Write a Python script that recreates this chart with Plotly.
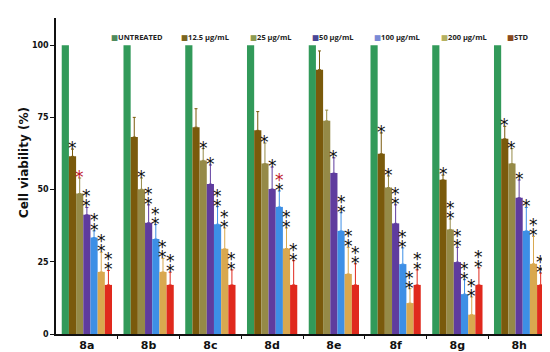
import plotly.graph_objects as go

groups = ["8a", "8b", "8c", "8d", "8e", "8f", "8g", "8h"]
series_names = ["UNTREATED", "12.5 µg/mL", "25 µg/mL", "50 µg/mL", "100 µg/mL", "200 µg/mL", "STD"]

untreated = [100, 100, 100, 100, 100, 100, 100, 100]
c12_5 = [61.5, 68.2, 71.6, 70.5, 91.5, 62.4, 53.4, 67.6]
c25 = [48.6, 50.1, 60.1, 59.0, 73.8, 50.7, 36.2, 59.0]
c50 = [41.3, 38.5, 51.9, 50.2, 55.7, 38.3, 24.9, 47.2]
c100 = [33.4, 32.9, 38.0, 44.0, 35.7, 24.2, 13.8, 35.7]
c200 = [21.5, 21.5, 29.5, 29.6, 20.8, 10.7, 6.7, 24.3]
std = [17.0, 17.0, 17.0, 17.0, 17.0, 17.0, 17.0, 17.0]

e_untreated = [0, 0, 0, 0, 0, 0, 0, 0]
e12_5 = [2.5, 6.8, 6.4, 6.5, 6.5, 7.2, 1.6, 4.3]
e25 = [5.4, 3.9, 4.1, 7.1, 3.7, 4.0, 3.6, 5.2]
e50 = [2.5, 6.2, 6.6, 7.6, 5.3, 6.4, 5.1, 6.1]
e100 = [2.3, 5.0, 6.1, 5.5, 6.3, 5.6, 5.0, 8.1]
e200 = [6.8, 4.7, 7.2, 7.1, 9.2, 5.0, 6.1, 9.5]
e_std = [5.0, 4.4, 5.2, 8.4, 7.3, 5.2, 5.9, 4.1]

# number of significance asterisks above each bar
s_untreated = [0, 0, 0, 0, 0, 0, 0, 0]
s12_5 = [1, 0, 0, 0, 0, 1, 1, 1]
s25 = [1, 1, 1, 1, 0, 1, 2, 1]
s50 = [2, 2, 1, 1, 1, 2, 2, 1]
s100 = [2, 2, 2, 2, 2, 2, 2, 1]
s200 = [2, 2, 2, 2, 2, 2, 2, 2]
s_std = [2, 2, 2, 2, 2, 2, 2, 2]

yticks = [0, 25, 50, 75, 100]

values = [untreated, c12_5, c25, c50, c100, c200, std]
errors = [e_untreated, e12_5, e25, e50, e100, e200, e_std]
stars = [s_untreated, s12_5, s25, s50, s100, s200, s_std]

bar_colors = ["#329a5a", "#7a5a0c", "#958a47", "#5f3c9e", "#3d8fe6", "#d9a84f", "#e0291d"]
legend_colors = ["#4f8a5c", "#7a6420", "#8c9a50", "#4a4696", "#7a8ad6", "#b4b060", "#8a4a20"]
red_stars = {(2, 0, 0), (4, 3, 1)}  # (series, group, level)

FONT = "DejaVu Sans"
L, R, T, B = 48, 8, 10, 24
W, H = 550, 352
PW, PH = W - L - R, H - T - B
gap = 0.186
n = len(series_names)
bw = (1 - gap) / n
xs = list(range(len(groups)))

fig = go.Figure()
for j, name in enumerate(series_names):
    fig.add_trace(go.Bar(
        x=xs, y=values[j], name=name, marker_color=bar_colors[j],
        marker_line_width=0,
        error_y=dict(type="data", symmetric=False, array=errors[j],
                     arrayminus=[0] * len(groups), color=bar_colors[j],
                     thickness=1, width=1.5, visible=any(errors[j])),
        showlegend=False,
    ))

annotations = []
for j in range(n):
    for i in range(len(groups)):
        for k in range(stars[j][i]):
            annotations.append(dict(
                x=i + (j - (n - 1) / 2) * bw, y=values[j][i] + errors[j][i],
                xref="x", yref="y", text="*", showarrow=False,
                yanchor="middle", yshift=1 + 10 * k,
                font=dict(family=FONT, size=17,
                          color="#c0182a" if (j, i, k) in red_stars else "#111111"),
            ))

# legend row drawn as text
legend_px = [101, 171, 240, 302, 364, 431, 497]
for j, name in enumerate(series_names):
    annotations.append(dict(
        x=(legend_px[j] - L) / PW, y=(H - B - 29) / PH,
        xref="paper", yref="paper", xanchor="left", yanchor="middle",
        showarrow=False,
        text=f"<span style='color:{legend_colors[j]};font-family:DejaVu Sans'>■</span><b>{name}</b>",
        font=dict(family="Open Sans", size=7.5, color="#222222"),
    ))

# y-axis title
annotations.append(dict(
    x=-32 / PW, y=(H - B - 156) / PH, xref="paper", yref="paper",
    text="<b>Cell viability (%)</b>", textangle=-90, showarrow=False,
    xanchor="center", yanchor="middle",
    font=dict(family=FONT, size=12, color="#111111"),
))

fig.update_layout(
    width=W, height=H, margin=dict(l=L, r=R, t=T, b=B),
    barmode="group", bargap=gap, bargroupgap=0,
    plot_bgcolor="white", paper_bgcolor="white",
    annotations=annotations,
    xaxis=dict(
        range=[-0.5, len(groups) - 0.5], tickvals=xs,
        ticktext=[f"<b>{g}</b>" for g in groups], ticks="", showgrid=False,
        showline=True, linecolor="#111111", linewidth=1.5, zeroline=False,
        tickfont=dict(family=FONT, size=11, color="#111111"),
        minor=dict(tickvals=[i + 0.5 for i in xs], ticks="outside", ticklen=3,
                   tickcolor="#111111", tickwidth=1, showgrid=False),
    ),
    yaxis=dict(
        range=[0, 109.4], tickvals=yticks, ticktext=[f"<b>{v}</b>" for v in yticks],
        ticks="outside", ticklen=4, tickcolor="#111111", showgrid=False,
        showline=True, linecolor="#111111", linewidth=1.5, zeroline=False,
        tickfont=dict(family=FONT, size=8, color="#111111"),
    ),
)

fig.write_html("out.html")
